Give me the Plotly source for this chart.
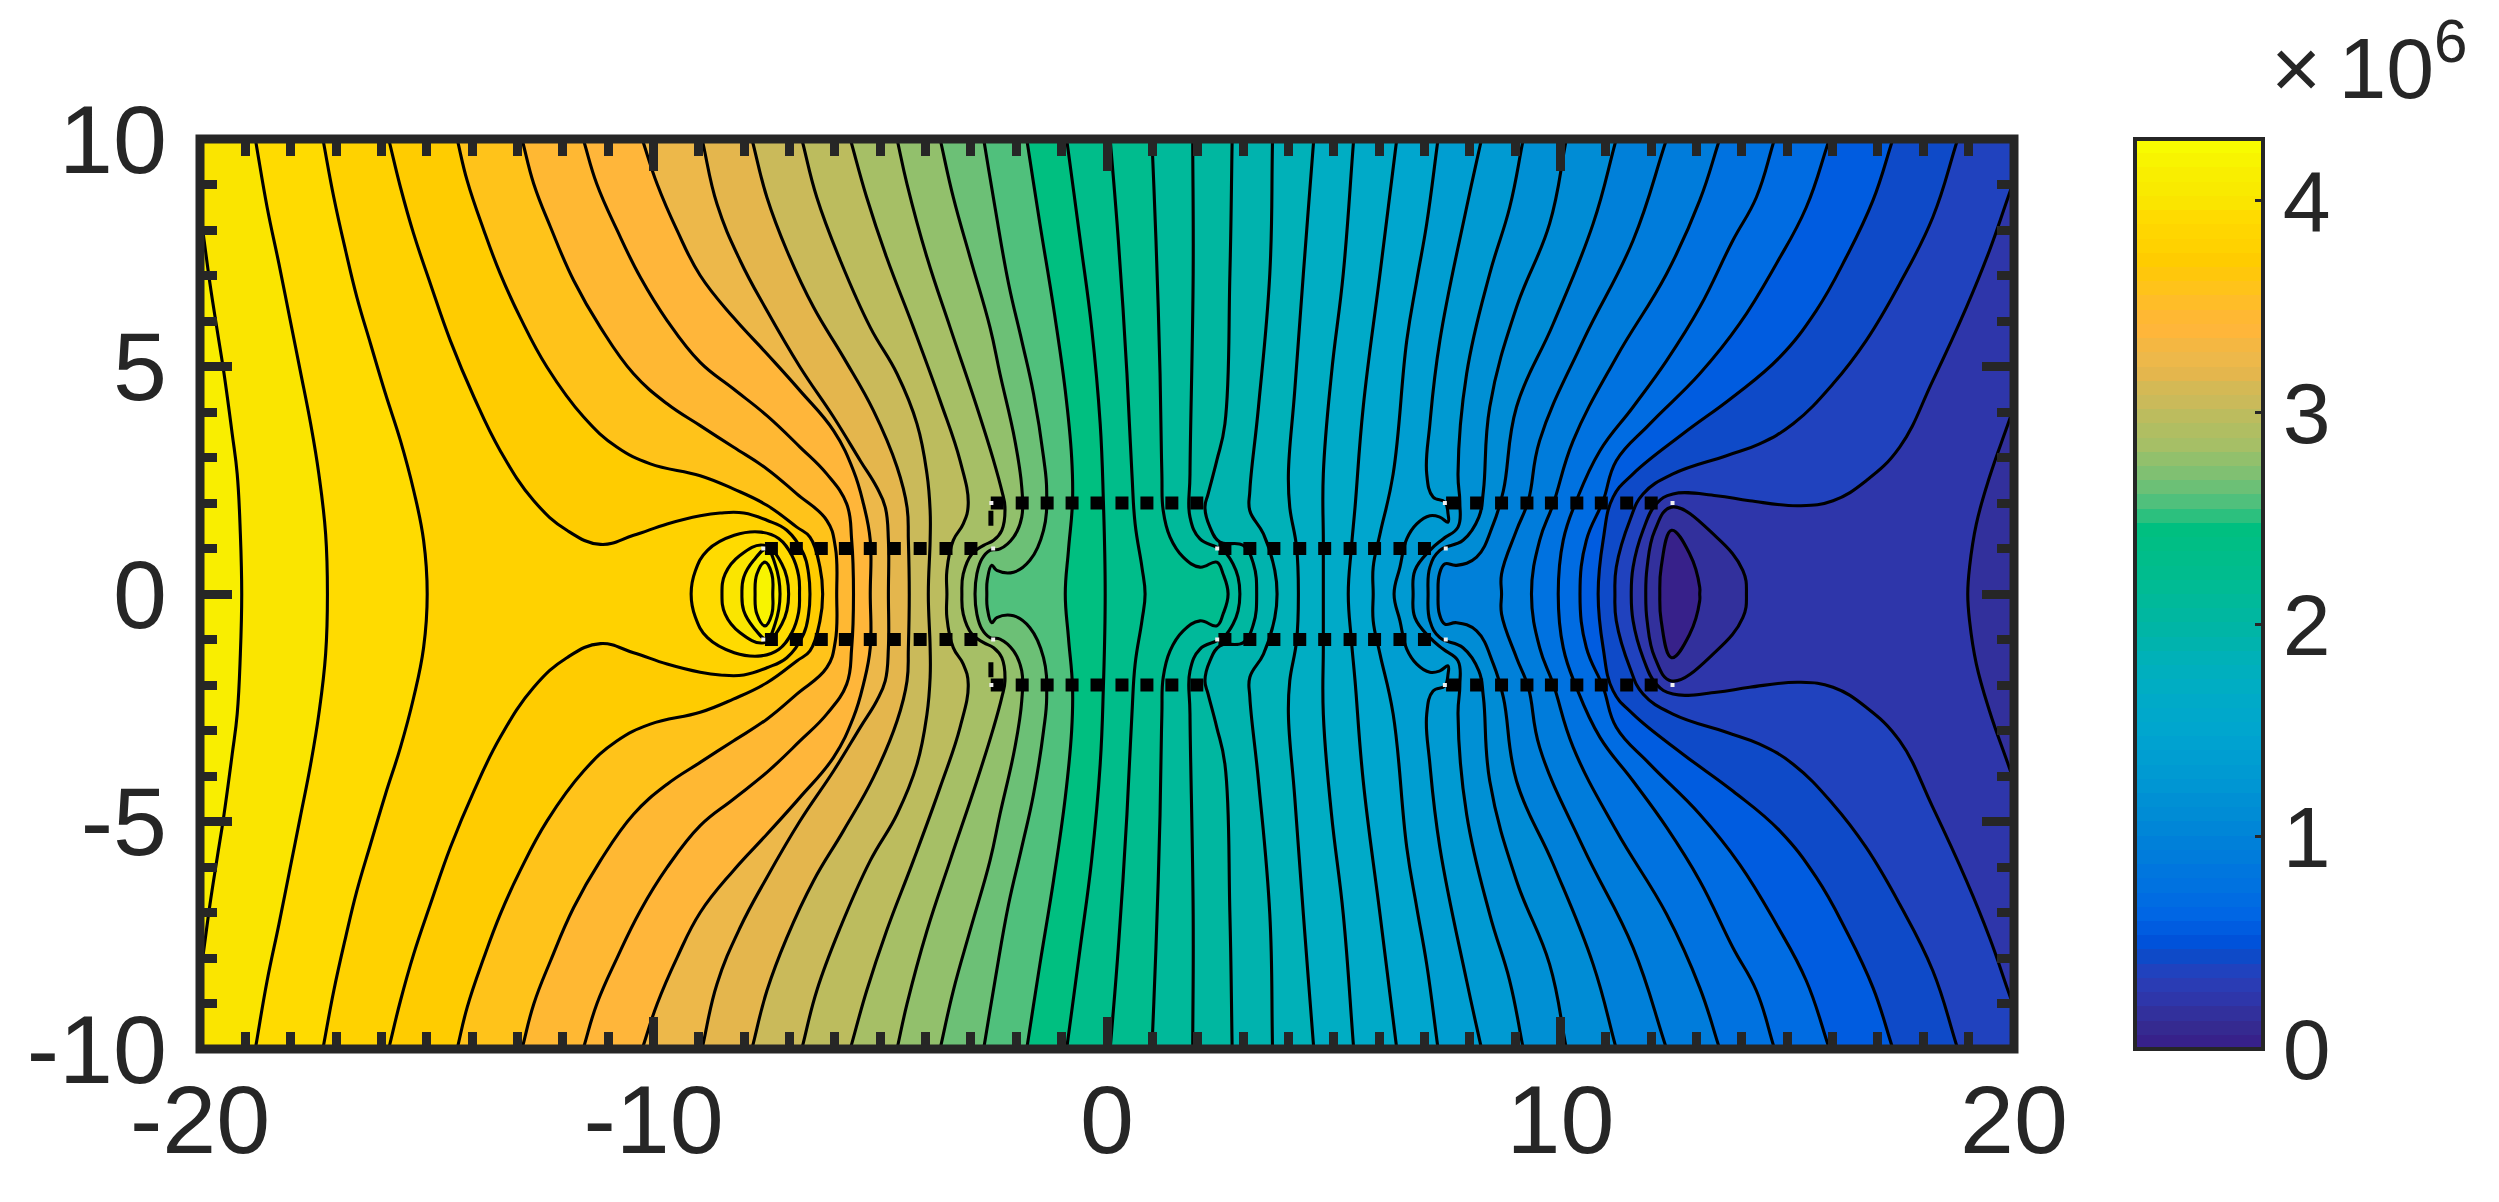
import plotly.graph_objects as go

# contour lines, upper half only (x, y) - the field is symmetric about y=0
L01 = [(-19.90,7.70),(-19.78,6.82),(-19.62,5.79),(-19.48,4.91),(-19.29,3.52),(-19.18,2.64),(-19.11,1.32),(-19.08,0)]
L02 = [(-18.78,10),(-18.52,8.50),(-18.26,7.26),(-18.01,6.01),(-17.79,4.91),(-17.56,3.74),(-17.38,2.64),(-17.23,1.32),(-17.19,0)]
L03 = [(-17.29,10),(-17.05,8.72),(-16.79,7.55),(-16.54,6.52),(-16.24,5.50),(-15.91,4.40),(-15.58,3.37),(-15.29,2.28),(-15.07,1.18),(-14.99,0)]
L04 = [(-15.84,10),(-15.58,8.94),(-15.29,7.92),(-14.92,6.82),(-14.48,5.57),(-13.96,4.33),(-13.38,3.15),(-12.64,2.05),(-11.91,1.40),(-11.17,1.09),(-10.44,1.29),(-9.70,1.54),(-8.97,1.72),(-8.53,1.78),(-8.01,1.78),(-7.50,1.62),(-7.06,1.40),(-6.69,0.88),(-6.58,0.44),(-6.55,0)]
L05 = [(-14.33,10),(-14.11,9.09),(-13.74,7.99),(-13.38,7.04),(-12.94,6.08),(-12.35,4.99),(-11.54,3.89),(-10.81,3.23),(-10.07,2.86),(-8.97,2.60),(-8.24,2.31),(-7.50,1.95),(-6.84,1.47),(-6.55,1.25),(-6.33,0.59),(-6.27,0)]
L06 = [(-12.90,10),(-12.64,9.01),(-12.27,8.06),(-11.76,6.89),(-11.17,5.86),(-10.44,4.84),(-9.70,4.18),(-8.97,3.70),(-8.24,3.23),(-7.50,2.75),(-6.84,2.20),(-6.18,1.62),(-5.99,1.03),(-5.96,0)]
L07 = [(-11.55,10),(-11.25,9.01),(-10.80,7.99),(-10.29,6.96),(-9.70,6.01),(-8.97,5.09),(-8.24,4.51),(-7.50,3.92),(-6.77,3.23),(-6.18,2.64),(-5.74,1.98),(-5.63,1.18),(-5.59,0)]
L08 = [(-10.25,10),(-9.92,9.01),(-9.48,7.99),(-8.97,7.00),(-8.24,6.08),(-7.50,5.28),(-6.77,4.47),(-6.03,3.59),(-5.59,2.71),(-5.37,1.98),(-5.22,1.18),(-5.22,0)]
L09 = [(-8.93,10),(-8.60,8.57),(-8.09,7.33),(-7.50,6.23),(-6.77,4.99),(-6.03,3.89),(-5.44,2.93),(-5.08,2.35),(-4.89,1.91),(-4.82,1.18),(-4.82,0)]
L10 = [(-7.83,10),(-7.50,8.72),(-7.06,7.55),(-6.47,6.30),(-5.81,5.20),(-5.15,4.03),(-4.63,2.79),(-4.41,1.91),(-4.38,1.18),(-4.36,0)]
L11 = [(-6.73,10),(-6.40,8.72),(-5.88,7.33),(-5.22,5.86),(-4.63,4.84),(-4.19,3.74),(-3.97,2.64),(-3.90,1.83),(-3.90,1.18),(-3.94,0)]
L12 = [(-5.66,10),(-5.30,8.72),(-4.86,7.40),(-4.27,5.86),(-3.68,4.25),(-3.24,2.93),(-3.06,1.98),(-3.17,1.54),(-3.39,1.18),(-3.53,0.52),(-3.53,0)]
L13 = [(-4.63,10),(-4.41,9.01),(-3.97,7.40),(-3.46,5.86),(-2.87,4.11),(-2.50,2.93),(-2.32,2.27),(-2.25,1.91),(-2.32,1.40),(-2.50,1.18),(-2.72,1.07),(-2.98,0.88),(-3.17,0.44),(-3.20,0)]
L14 = [(-3.68,10),(-3.39,8.72),(-3.02,7.40),(-2.58,5.86),(-2.36,4.84),(-2.03,3.37),(-1.88,2.35),(-1.88,1.69),(-2.06,1.25),(-2.36,0.99),(-2.58,0.96),(-2.76,0.77),(-2.87,0.44),(-2.91,0)]
L15 = [(-2.72,10),(-2.47,8.50),(-2.17,6.82),(-1.88,5.57),(-1.62,4.40),(-1.40,3.01),(-1.33,2.27),(-1.40,1.40),(-1.70,0.74),(-2.06,0.48),(-2.43,0.52),(-2.54,0.63),(-2.64,0.30),(-2.65,0)]
L16 = [(-1.77,10),(-1.48,8.14),(-1.18,6.30),(-0.92,4.47),(-0.78,3.01),(-0.76,2.05),(-0.85,0.96),(-0.92,0)]
L17 = [(-0.89,10),(-0.59,7.77),(-0.34,5.86),(-0.15,3.74),(-0.08,2.05),(-0.04,0)]
L18 = [(0.07,10),(0.25,7.77),(0.44,4.84),(0.55,2.64),(0.62,1.54),(0.77,0.59),(0.84,0)]
L19 = [(0.99,10),(1.08,7.77),(1.17,4.84),(1.21,2.64),(1.24,1.83),(1.39,1.25),(1.68,0.81),(2.05,0.59),(2.42,0.70),(2.56,0.44),(2.67,0)]
L20 = [(1.89,10),(1.90,7.04),(1.83,2.64),(1.83,1.69),(2.05,1.21),(2.42,1.03),(2.60,0.92),(2.78,0.66),(2.89,0.37),(2.93,0)]
L21 = [(2.76,10),(2.71,7.04),(2.60,3.74),(2.42,2.93),(2.23,2.20),(2.16,1.91),(2.27,1.47),(2.49,1.14),(3.00,1.07),(3.23,0.66),(3.30,0)]
L22 = [(3.65,10),(3.59,7.04),(3.34,4.11),(3.15,2.27),(3.15,1.83),(3.45,1.32),(3.70,0.52),(3.75,0)]
L23 = [(4.56,10),(4.33,7.04),(4.14,4.47),(4.00,2.64),(4.03,1.91),(4.18,1.03),(4.22,0)]
L24 = [(5.44,10),(5.21,7.04),(4.95,4.84),(4.77,2.64),(4.77,1.18),(4.77,0)]
L25 = [(6.39,10),(6.02,7.04),(5.65,4.11),(5.47,1.91),(5.39,1.03),(5.32,0)]
L26 = [(7.30,10),(7.05,8.14),(6.83,6.89),(6.61,5.57),(6.31,2.64),(6.02,1.32),(5.87,0.59),(5.87,0)]
L27 = [(8.26,10),(7.93,8.50),(7.34,5.57),(7.12,3.74),(7.05,2.64),(7.19,2.13),(7.45,2.02),(7.52,1.76),(7.52,1.58),(7.34,1.69),(7.12,1.72),(6.83,1.54),(6.61,1.21),(6.46,0.59),(6.33,0)]
L28 = [(9.18,10),(8.88,8.50),(8.44,7.04),(7.93,4.84),(7.74,2.64),(7.78,2.02),(7.74,1.47),(7.41,1.21),(7.12,0.96),(6.79,0.52),(6.75,0)]
L29 = [(10.13,10),(9.76,8.14),(9.03,6.30),(8.44,4.11),(8.30,2.27),(8.20,1.69),(7.85,1.18),(7.34,0.96),(7.12,0.59),(7.08,0)]
L30 = [(11.23,10),(10.72,8.14),(9.84,5.94),(9.03,4.11),(8.74,2.27),(8.52,1.54),(8.15,0.81),(7.71,0.63),(7.45,0.66),(7.33,0.44),(7.30,0)]
L31 = [(12.34,10),(11.60,7.77),(10.50,5.57),(9.54,3.37),(9.29,2.05),(9.03,1.40),(8.70,0.44),(8.70,0)]
L32 = [(13.51,10),(13.07,8.65),(12.34,7.04),(11.23,5.20),(10.28,3.37),(9.84,1.98),(9.54,1.18),(9.36,0)]
L33 = [(14.72,10),(14.32,8.72),(13.80,7.77),(13.07,6.30),(12.34,5.13),(11.60,4.11),(10.87,3.15),(10.35,2.05),(10.06,1.18),(9.95,0)]
L34 = [(15.93,10),(15.42,8.50),(14.76,7.26),(13.95,5.94),(13.07,4.84),(11.97,3.74),(11.23,2.93),(10.94,2.05),(10.57,1.18),(10.43,0)]
L35 = [(17.33,10),(16.89,8.65),(16.30,7.40),(15.64,6.23),(14.83,5.20),(13.80,4.33),(12.70,3.52),(11.60,2.64),(11.16,2.13),(10.94,1.18),(10.83,0)]
L36 = [(18.76,10),(18.21,8.28),(17.48,6.82),(16.74,5.57),(16.01,4.62),(15.13,3.74),(14.39,3.30),(13.66,3.04),(12.48,2.64),(11.82,2.20),(11.53,1.62),(11.23,0.59),(11.20,0)]
L37 = [(19.87,8.72),(19.46,7.55),(18.95,6.30),(18.21,4.69),(17.48,3.23),(16.74,2.49),(16.01,2.05),(15.27,1.94),(14.17,2.05),(13.44,2.16),(12.48,2.20),(12.11,1.98),(11.82,1.40),(11.60,0.59),(11.56,0)]
L38 = [(19.87,3.74),(19.46,2.57),(19.17,1.54),(19.02,0.59),(18.98,0)]

# closed loops round the source (left) and the sink (right)
C1 = [(-9.17,0),(-9.08,0.50),(-8.81,0.96),(-8.22,1.29),(-7.63,1.36),(-7.24,1.22),(-6.95,0.85),(-6.80,0.40),(-6.78,0)]
C2 = [(-8.49,0),(-8.42,0.44),(-8.09,0.85),(-7.57,1.07),(-7.17,0.66),(-7.02,0)]
C3 = [(-8.05,0),(-8.01,0.37),(-7.79,0.74),(-7.50,0.99),(-7.32,0.66),(-7.21,0)]
C4 = [(-7.76,0),(-7.72,0.44),(-7.54,0.70),(-7.39,0.44),(-7.37,0)]
E1 = [(11.88,0),(11.91,0.59),(12.08,1.40),(12.45,1.91),(13.44,1.25),(14.02,0.52),(14.10,0)]
F1 = [(12.19,0),(12.22,0.59),(12.45,1.40),(12.85,0.88),(13.07,0.15),(13.07,0)]

# contour level of each line (in units of 1e6), from L01 down to L38
open_levels = [4.056,3.952,3.848,3.744,3.640,3.536,3.432,3.328,3.224,3.120,3.016,2.912,2.808,2.704,2.600,2.496,2.392,2.288,2.184,2.080,
               1.976,1.872,1.768,1.664,1.560,1.456,1.352,1.248,1.144,1.040,0.936,0.832,0.728,0.624,0.520,0.416,0.312,0.208]
# band value inside each closed loop, same units
left_loop_bands = [3.900,4.004,4.108,4.212]
right_loop_bands = [0.156,0.052]
corner_band = 4.108
z_max = 4.29

# the colorbar steps, bottom to top
colormap = ["#37218A","#352A90","#32309C","#2E36AA","#2A3CB4","#2042BE","#0E4AC8","#0052DA","#005CE0","#0066E4",
            "#006CE2","#0072E0","#0076DE","#007CDB","#0080D9","#0086D7","#008CD5","#0090D4","#0096D3","#009AD2",
            "#009ED1","#00A2D0","#00A6CE","#00A8CB","#00AAC8","#00ADC3","#00AFBE","#00B1B8","#00B3AE","#00B5A6",
            "#00B7A0","#00B99A","#00BB94","#00BC8E","#00BD8A","#00BE85","#00BF80","#2CC07E","#50C07C","#6CC076",
            "#80C072","#92C06C","#A6BF66","#B0BE62","#BCBC5E","#CABA5A","#D4B955","#E4B64D","#EDB84A","#F4B742",
            "#FFB63A","#FFB833","#FFBD28","#FFC31A","#FFC70C","#FFCC00","#FFD200","#FFD600","#FFDB00","#FAE500",
            "#F9EA00","#F9EE00","#F8F400","#F8FB00"]

# the dotted conductor rows
dots_left_outer = [-2.42,-1.87,-1.32,-0.77,-0.22,0.33,0.88,1.43,1.98]
dots_left_inner = [-7.40,-6.85,-6.30,-5.77,-5.22,-4.69,-4.12,-3.55,-3.00]
dots_right_inner = [2.60,3.15,3.68,4.25,4.80,5.36,5.90,6.46,7.00]
dots_right_outer = [7.62,8.15,8.70,9.26,9.80,10.36,10.90,11.46,12.00]
white_x = [-7.58,-2.51,2.43,7.47,-2.55,7.45,12.47]
white_y = [1,1,1,1,2,2,2]

x_ticks = [-20,-10,0,10,20]
y_ticks = [-10,-5,0,5,10]
bar_ticks = [0,1,2,3,4]

INK = "#262626"


def band_color(value):
    return colormap[min(int(value / z_max * 64), 63)]


def mirror(pts):
    xs = [p[0] for p in pts]
    ys = [p[1] for p in pts]
    return xs + xs[-2::-1], ys + [-v for v in ys[-2::-1]]


fig = go.Figure()

line_style = dict(color="black", width=3.1, shape="spline", smoothing=1.2, simplify=False)


def add_region(xs, ys, fill):
    fig.add_trace(go.Scatter(x=xs, y=ys, mode="lines", line=line_style, fill="toself", fillcolor=fill,
                             hoverinfo="skip", showlegend=False))


all_lines = [L01,L02,L03,L04,L05,L06,L07,L08,L09,L10,L11,L12,L13,L14,L15,L16,L17,L18,L19,L20,
             L21,L22,L23,L24,L25,L26,L27,L28,L29,L30,L31,L32,L33,L34,L35,L36,L37,L38]

for pts, level in zip(all_lines, open_levels):
    # carry the line well past the frame, then round the right side so the fill covers what is right of it
    (x0, y0), (x1, y1) = pts[0], pts[1]
    near = (x0 + (x0 - x1), y0 + (y0 - y1))
    far = (x0 + 3 * (x0 - x1), y0 + 3 * (y0 - y1))
    xs, ys = mirror([far, near] + pts)
    add_region([90, far[0]] + xs + [far[0], 90], [40, 40] + ys + [-40, -40], band_color(level - 0.052))

for pts, value in zip([C1, C2, C3, C4], left_loop_bands):
    xs, ys = mirror(pts)
    add_region(xs, ys, band_color(value))

for pts, value in zip([E1, F1], right_loop_bands):
    xs, ys = mirror(pts)
    add_region(xs, ys, band_color(value))

# the short dark marks beside the dots
for sign in (1, -1):
    fig.add_trace(go.Scatter(x=[-2.56, -2.56], y=[1.5 * sign, 1.83 * sign], mode="lines",
                             line=dict(color="black", width=5), hoverinfo="skip", showlegend=False))

for row_x, row_y in [(dots_left_outer, 2), (dots_left_inner, 1), (dots_right_inner, 1), (dots_right_outer, 2)]:
    for sign in (1, -1):
        fig.add_trace(go.Scatter(x=row_x, y=[row_y * sign] * len(row_x), mode="markers",
                                 marker=dict(symbol="square", size=13, color="black"),
                                 hoverinfo="skip", showlegend=False))

fig.add_trace(go.Scatter(x=white_x + white_x, y=white_y + [-v for v in white_y], mode="markers",
                         marker=dict(symbol="square", size=4, color="#F0F0F0"),
                         hoverinfo="skip", showlegend=False))

# dummy trace, only there to carry the colorbar
scale = []
for i, c in enumerate(colormap):
    scale.append([i / 64, c])
    scale.append([(i + 1) / 64, c])
fig.add_trace(go.Scatter(
    x=[None] * len(open_levels), y=[None] * len(open_levels), mode="markers", showlegend=False,
    marker=dict(color=open_levels, colorscale=scale, cmin=0, cmax=z_max, showscale=True,
                colorbar=dict(x=(2135 - 200) / 1814, xanchor="left", xpad=0, ypad=0, y=0.5, yanchor="middle",
                              len=1, lenmode="fraction", thickness=128, thicknessmode="pixels",
                              outlinecolor=INK, outlinewidth=4, ticks="inside", ticklen=10, tickwidth=3,
                              tickcolor=INK, tickvals=bar_ticks, ticktext=[str(t) for t in bar_ticks],
                              tickfont=dict(family="Liberation Sans", size=86, color=INK)))))

axis_font = dict(family="Liberation Sans", size=97, color=INK)
fig.update_xaxes(range=[-20, 20], tickvals=x_ticks, ticktext=[str(t) for t in x_ticks], ticks="inside", ticklen=32,
                 tickwidth=9, tickcolor=INK, mirror="ticks", showline=False, showgrid=False, zeroline=False,
                 tickfont=axis_font, ticklabelstandoff=6,
                 minor=dict(dtick=1, tick0=0, ticks="inside", ticklen=17, tickwidth=9, tickcolor=INK, showgrid=False))
fig.update_yaxes(range=[-10, 10], tickvals=y_ticks, ticktext=[str(t) for t in y_ticks], ticks="inside", ticklen=32,
                 tickwidth=9, tickcolor=INK, mirror="ticks", showline=False, showgrid=False, zeroline=False,
                 tickfont=axis_font, ticklabelstandoff=32,
                 minor=dict(dtick=1, tick0=0, ticks="inside", ticklen=17, tickwidth=9, tickcolor=INK, showgrid=False))

fig.update_layout(
    width=2499, height=1202, autosize=False,
    margin=dict(l=200, r=485, t=139, b=153, pad=0),
    paper_bgcolor="white", plot_bgcolor=band_color(corner_band),
    shapes=[dict(type="rect", xref="paper", yref="paper", x0=0, x1=1, y0=0, y1=1,
                 line=dict(color=INK, width=9), layer="above")],
    annotations=[dict(text="×&#8201;10<sup>6</sup>", xref="paper", yref="paper", x=(2269 - 200) / 1814, y=1.023,
                      xanchor="left", yanchor="bottom", showarrow=False,
                      font=dict(family="Liberation Sans", size=86, color=INK))],
)

fig.write_html("out.html", config=dict(displayModeBar=False), post_script="document.body.style.margin='0';")
